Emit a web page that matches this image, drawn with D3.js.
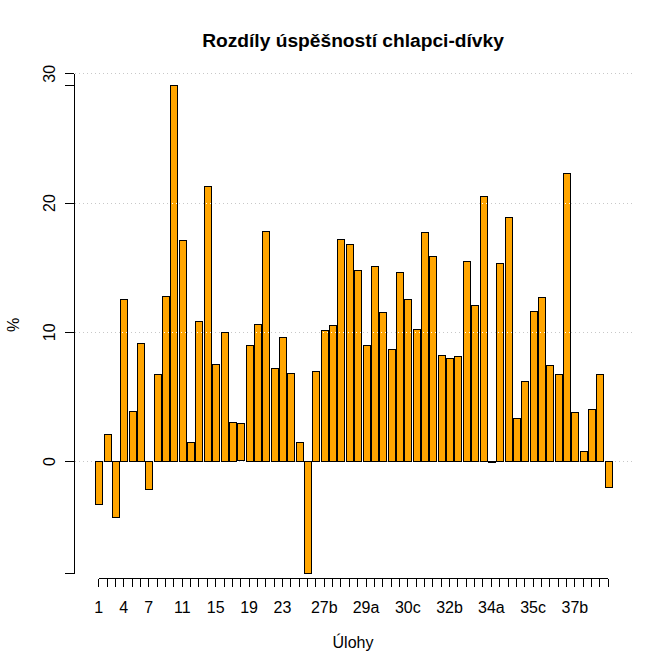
<!DOCTYPE html>
<html>
<head>
<meta charset="utf-8">
<script src="https://cdn.jsdelivr.net/npm/d3@7"></script>
<style>
  html, body { margin: 0; padding: 0; background: #fff; }
  text { font-family: "Liberation Sans", Arial, sans-serif; fill: #000; }
</style>
</head>
<body>
<div id="my_dataviz"></div>
<script>
// task names (one per bar)
const ulohy = [
  "1", "2", "3", "4", "5", "6", "7", "8", "9", "10",
  "11", "12", "13", "14", "15", "16", "17", "18", "19", "20",
  "21", "22", "23", "24", "25", "26", "27a", "27b", "27c", "28a",
  "28b", "28c", "29a", "29b", "29c", "30a", "30b", "30c", "31a", "31b",
  "31c", "32a", "32b", "32c", "33a", "33b", "33c", "34a", "34b", "34c",
  "35a", "35b", "35c", "36a", "36b", "36c", "37a", "37b", "37c", "38",
  "39", "40"
];

// difference boys - girls in %
const rozdily = [
  -3.3, 2.1, -4.3, 12.5, 3.9, 9.1, -2.2, 6.7, 12.8, 29.1,
  17.1, 1.5, 10.8, 21.3, 7.5, 10.0, 3.0, 2.9, 9.0, 10.6,
  17.8, 7.2, 9.6, 6.8, 1.5, -8.7, 7.0, 10.1, 10.5, 17.2,
  16.8, 14.8, 9.0, 15.1, 11.5, 8.7, 14.6, 12.5, 10.2, 17.7,
  15.9, 8.2, 8.0, 8.1, 15.5, 12.1, 20.5, -0.1, 15.3, 18.9,
  3.3, 6.2, 11.6, 12.7, 7.4, 6.7, 22.3, 3.8, 0.8, 4.0,
  6.7, -2.0
];

// labels that R managed to print without overlap
const shownLabels = ["1", "4", "7", "11", "15", "19", "23", "27b", "29a", "30c", "32b", "34a", "35c", "37b"];
const yLabels = [0, 10, 20, 30];

const width = 671, height = 670;

const svg = d3.select("#my_dataviz")
  .append("svg")
  .attr("width", width)
  .attr("height", height)
  .attr("xmlns", "http://www.w3.org/2000/svg");

svg.append("rect").attr("width", width).attr("height", height).attr("fill", "#fff");

// scales
const step = 8.354;
const x = d3.scaleBand()
  .domain(ulohy)
  .range([94.52, 94.52 + step * ulohy.length])
  .paddingInner(1 / 6)
  .paddingOuter(1 / 12);

const yMin = d3.min(rozdily), yMax = d3.max(rozdily);
const y = d3.scaleLinear()
  .domain([yMin, 30])
  .range([573.4, 73.3]);

const bx = (i) => Math.round(x(ulohy[i])) + 0.5;
const bw = Math.round(x.bandwidth());

// dotted grid (below bars)
const gridX = [74.5, 632];
svg.append("g")
  .selectAll("line")
  .data(yLabels)
  .join("line")
  .attr("x1", gridX[0]).attr("x2", gridX[1])
  .attr("y1", d => Math.round(y(d)) + 0.5)
  .attr("y2", d => Math.round(y(d)) + 0.5)
  .attr("stroke", "#c8c8c8")
  .attr("shape-rendering", "crispEdges")
  .attr("stroke-dasharray", "1,3");

// bars
svg.append("g")
  .attr("shape-rendering", "crispEdges")
  .selectAll("rect")
  .data(rozdily)
  .join("rect")
  .attr("x", (d, i) => bx(i))
  .attr("width", bw)
  .attr("y", d => Math.round(y(Math.max(0, d))) + 0.5)
  .attr("height", d => Math.round(Math.abs(y(d) - y(0))))
  .attr("fill", "orange")
  .attr("stroke", "#000")
  .attr("stroke-width", 1);

// grid dots where they cross a bar show up white
const crossings = [];
yLabels.filter(g => g > 0).forEach(g => {
  rozdily.forEach((d, i) => { if (d > g) crossings.push({ g: g, i: i }); });
});
svg.append("g")
  .selectAll("line")
  .data(crossings)
  .join("line")
  .attr("x1", d => bx(d.i) + 1)
  .attr("x2", d => bx(d.i) + bw - 0.5)
  .attr("y1", d => Math.round(y(d.g)) + 0.5)
  .attr("y2", d => Math.round(y(d.g)) + 0.5)
  .attr("stroke", "#fff")
  .attr("shape-rendering", "crispEdges")
  .attr("stroke-dasharray", "1,3");

// y axis: ticks at data range + pretty values
const yAxis = svg.append("g")
  .attr("transform", "translate(73.5,0)")
  .attr("shape-rendering", "crispEdges")
  .call(d3.axisLeft(y)
    .tickValues([yMin, 0, 10, 20, 30, yMax])
    .tickSize(9)
    .tickSizeOuter(0)
    .tickFormat(d => yLabels.includes(d) ? d : ""));
yAxis.selectAll("text")
  .attr("transform", "rotate(-90)")
  .attr("x", 0)
  .attr("y", -18.8)
  .attr("dy", 0)
  .attr("text-anchor", "middle")
  .style("font-size", "16px");
yAxis.selectAll("line, path").attr("stroke", "#000");
yAxis.attr("font-family", null).attr("font-size", null);

// x axis
const xAxis = svg.append("g")
  .attr("transform", "translate(0,578.5)")
  .attr("shape-rendering", "crispEdges")
  .call(d3.axisBottom(x)
    .tickSize(8.5)
    .tickSizeOuter(0)
    .tickFormat(d => shownLabels.includes(d) ? d : ""));
xAxis.select(".domain").remove();
xAxis.append("line")
  .attr("x1", x(ulohy[0]) + x.bandwidth() / 2)
  .attr("x2", x(ulohy[ulohy.length - 1]) + x.bandwidth() / 2)
  .attr("stroke", "#000");
xAxis.selectAll("line").attr("stroke", "#000");
xAxis.selectAll("text")
  .attr("y", 34.3)
  .attr("dy", 0)
  .style("font-size", "16px");
xAxis.attr("font-family", null).attr("font-size", null);

// titles
svg.append("text")
  .attr("x", 353)
  .attr("y", 46.5)
  .attr("text-anchor", "middle")
  .style("font-size", "19.2px")
  .style("font-weight", "bold")
  .text("Rozdíly úspěšností chlapci-dívky");

svg.append("text")
  .attr("x", 353)
  .attr("y", 648)
  .attr("text-anchor", "middle")
  .style("font-size", "16px")
  .text("Úlohy");

svg.append("text")
  .attr("transform", "translate(19,325) rotate(-90)")
  .attr("text-anchor", "middle")
  .style("font-size", "16px")
  .text("%");
</script>
</body>
</html>
